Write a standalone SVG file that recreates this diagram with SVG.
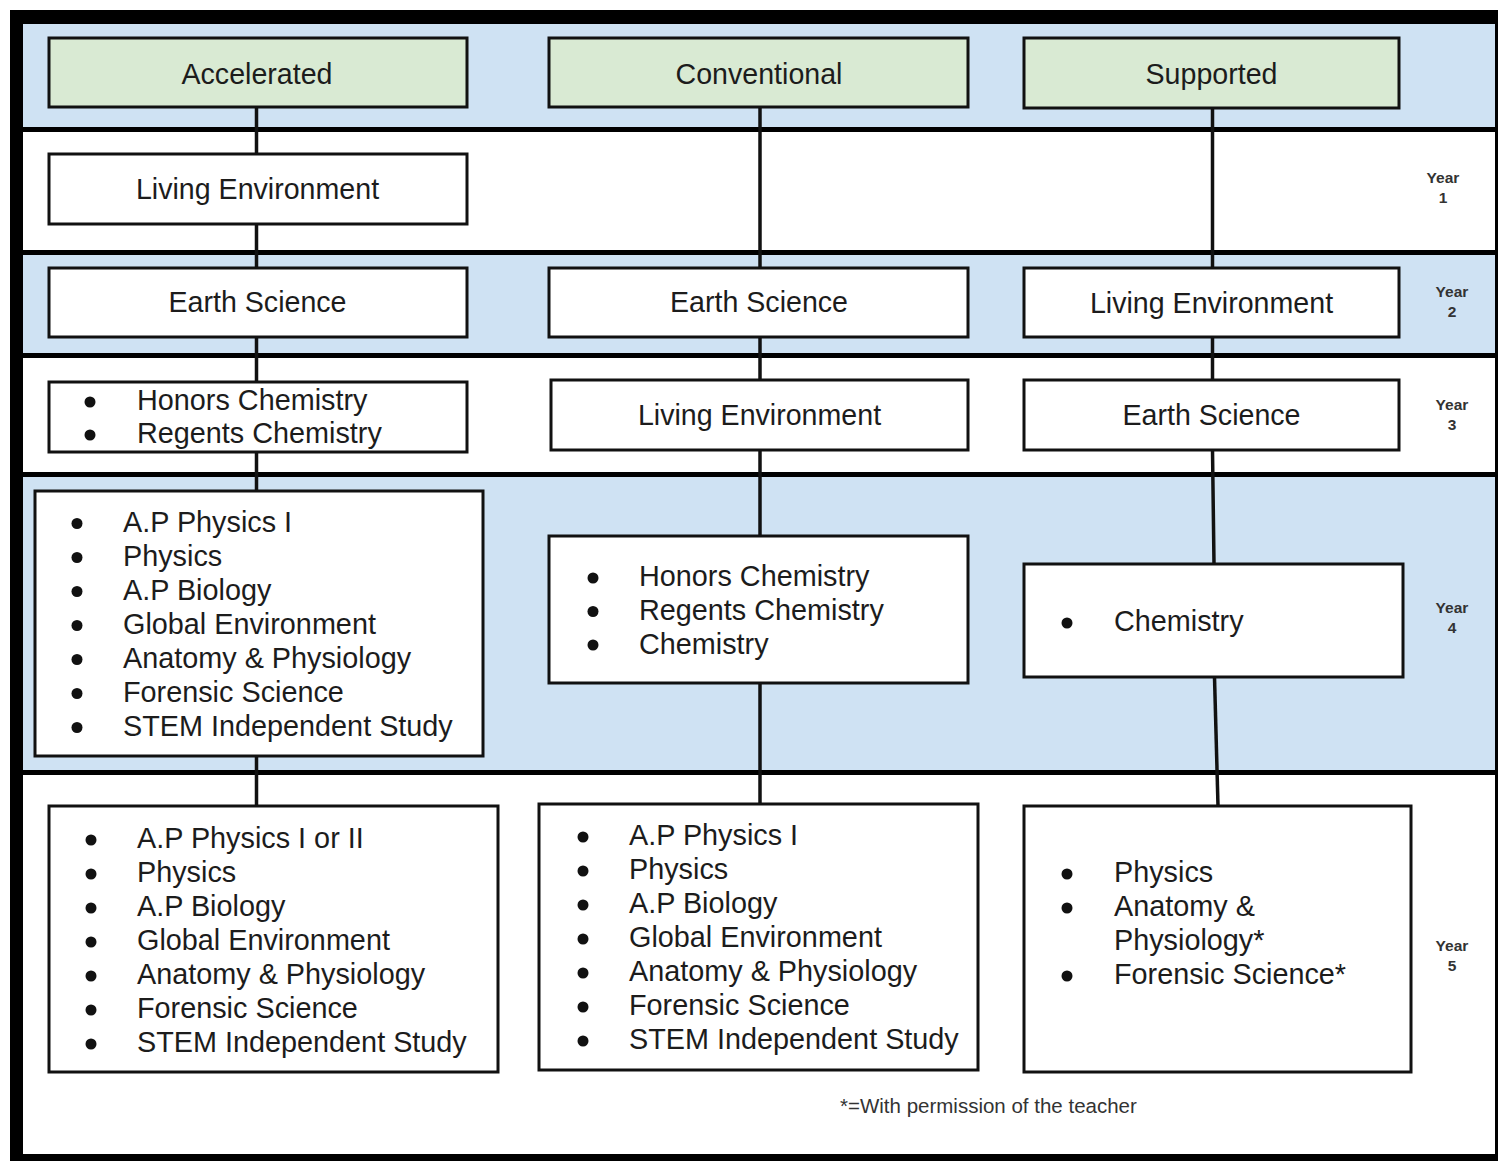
<svg xmlns="http://www.w3.org/2000/svg" width="1498" height="1161" viewBox="0 0 1498 1161">
<style>
text{font-family:"Liberation Sans",Arial,sans-serif;fill:#1c1c1c}
.lbl{font-size:28.6px;text-anchor:middle}
.li{font-size:28.8px}
.yr{font-size:15.5px;font-weight:bold;text-anchor:middle;fill:#333}
.note{font-size:20.5px;fill:#333}
.box{fill:#fff;stroke:#111;stroke-width:3}
.hdr{fill:#d9ead3;stroke:#111;stroke-width:3}
.blue{fill:#cfe2f3}
.white{fill:#fff}
.bul{fill:#111}
.conn{stroke:#111;stroke-width:3.5;fill:none}
</style>
<rect x="0" y="0" width="1498" height="1161" fill="#fff"/>
<g id="frame">
<rect x="10" y="10" width="1488" height="1151" fill="#000"/>
<rect class="blue" x="23" y="24" width="1472" height="103"/>
<rect class="white" x="23" y="132" width="1472" height="118"/>
<rect class="blue" x="23" y="255" width="1472" height="98"/>
<rect class="white" x="23" y="358" width="1472" height="114"/>
<rect class="blue" x="23" y="477" width="1472" height="293"/>
<rect class="white" x="23" y="775" width="1472" height="379"/>
</g>
<g id="connectors">
<line class="conn" x1="256.5" y1="107" x2="256.5" y2="806"/>
<line class="conn" x1="760" y1="107" x2="760" y2="804"/>
<polyline class="conn" points="1212.5,108 1212.5,450 1214,564"/>
<line class="conn" x1="1214.5" y1="677" x2="1218" y2="806"/>
</g>
<g id="hdr-accelerated"><rect class="hdr" x="49" y="38" width="418" height="69"/><text class="lbl" x="257" y="84">Accelerated</text></g>
<g id="hdr-conventional"><rect class="hdr" x="549" y="38" width="419" height="69"/><text class="lbl" x="759" y="84">Conventional</text></g>
<g id="hdr-supported"><rect class="hdr" x="1024" y="38" width="375" height="70"/><text class="lbl" x="1211.5" y="84">Supported</text></g>

<g id="acc-y1"><rect class="box" x="49" y="154" width="418" height="70"/><text class="lbl" x="257.5" y="199">Living Environment</text></g>
<g id="acc-y2"><rect class="box" x="49" y="268" width="418" height="69"/><text class="lbl" x="257.5" y="312">Earth Science</text></g>
<g id="acc-y3"><rect class="box" x="49" y="382" width="418" height="70"/>
<circle class="bul" cx="90" cy="402" r="5.5"/><circle class="bul" cx="90" cy="435" r="5.5"/>
<text class="li" x="137" y="410">Honors Chemistry</text><text class="li" x="137" y="443">Regents Chemistry</text></g>
<g id="acc-y4"><rect class="box" x="35" y="491" width="448" height="265"/>
<circle class="bul" cx="77" cy="523.5" r="5.5"/><circle class="bul" cx="77" cy="557.5" r="5.5"/><circle class="bul" cx="77" cy="591.5" r="5.5"/><circle class="bul" cx="77" cy="625.5" r="5.5"/><circle class="bul" cx="77" cy="659.5" r="5.5"/><circle class="bul" cx="77" cy="693.5" r="5.5"/><circle class="bul" cx="77" cy="727.5" r="5.5"/>
<text class="li" x="123" y="532">A.P Physics I</text><text class="li" x="123" y="566">Physics</text><text class="li" x="123" y="600">A.P Biology</text><text class="li" x="123" y="634">Global Environment</text><text class="li" x="123" y="668">Anatomy &amp; Physiology</text><text class="li" x="123" y="702">Forensic Science</text><text class="li" x="123" y="736">STEM Independent Study</text></g>
<g id="acc-y5"><rect class="box" x="49" y="806" width="449" height="266"/>
<circle class="bul" cx="91" cy="840" r="5.5"/><circle class="bul" cx="91" cy="874" r="5.5"/><circle class="bul" cx="91" cy="908" r="5.5"/><circle class="bul" cx="91" cy="942" r="5.5"/><circle class="bul" cx="91" cy="976" r="5.5"/><circle class="bul" cx="91" cy="1010" r="5.5"/><circle class="bul" cx="91" cy="1044" r="5.5"/>
<text class="li" x="137" y="848">A.P Physics I or II</text><text class="li" x="137" y="882">Physics</text><text class="li" x="137" y="916">A.P Biology</text><text class="li" x="137" y="950">Global Environment</text><text class="li" x="137" y="984">Anatomy &amp; Physiology</text><text class="li" x="137" y="1018">Forensic Science</text><text class="li" x="137" y="1052">STEM Independent Study</text></g>

<g id="con-y2"><rect class="box" x="549" y="268" width="419" height="69"/><text class="lbl" x="759" y="312">Earth Science</text></g>
<g id="con-y3"><rect class="box" x="551" y="380" width="417" height="70"/><text class="lbl" x="759.5" y="425">Living Environment</text></g>
<g id="con-y4"><rect class="box" x="549" y="536" width="419" height="147"/>
<circle class="bul" cx="593" cy="578" r="5.5"/><circle class="bul" cx="593" cy="611.5" r="5.5"/><circle class="bul" cx="593" cy="645" r="5.5"/>
<text class="li" x="639" y="586">Honors Chemistry</text><text class="li" x="639" y="620">Regents Chemistry</text><text class="li" x="639" y="654">Chemistry</text></g>
<g id="con-y5"><rect class="box" x="539" y="804" width="439" height="266"/>
<circle class="bul" cx="583" cy="837" r="5.5"/><circle class="bul" cx="583" cy="871" r="5.5"/><circle class="bul" cx="583" cy="905" r="5.5"/><circle class="bul" cx="583" cy="939" r="5.5"/><circle class="bul" cx="583" cy="973" r="5.5"/><circle class="bul" cx="583" cy="1007" r="5.5"/><circle class="bul" cx="583" cy="1041" r="5.5"/>
<text class="li" x="629" y="845">A.P Physics I</text><text class="li" x="629" y="879">Physics</text><text class="li" x="629" y="913">A.P Biology</text><text class="li" x="629" y="947">Global Environment</text><text class="li" x="629" y="981">Anatomy &amp; Physiology</text><text class="li" x="629" y="1015">Forensic Science</text><text class="li" x="629" y="1049">STEM Independent Study</text></g>

<g id="sup-y2"><rect class="box" x="1024" y="268" width="375" height="69"/><text class="lbl" x="1211.5" y="313">Living Environment</text></g>
<g id="sup-y3"><rect class="box" x="1024" y="380" width="375" height="70"/><text class="lbl" x="1211.5" y="425">Earth Science</text></g>
<g id="sup-y4"><rect class="box" x="1024" y="564" width="379" height="113"/>
<circle class="bul" cx="1067" cy="623" r="5.5"/>
<text class="li" x="1114" y="631">Chemistry</text></g>
<g id="sup-y5"><rect class="box" x="1024" y="806" width="387" height="266"/>
<circle class="bul" cx="1067" cy="874" r="5.5"/><circle class="bul" cx="1067" cy="908" r="5.5"/><circle class="bul" cx="1067" cy="976" r="5.5"/>
<text class="li" x="1114" y="882">Physics</text><text class="li" x="1114" y="916">Anatomy &amp;</text><text class="li" x="1114" y="950">Physiology*</text><text class="li" x="1114" y="984">Forensic Science*</text></g>

<g id="year-labels">
<text class="yr" x="1443" y="183">Year</text><text class="yr" x="1443" y="203">1</text>
<text class="yr" x="1452" y="297">Year</text><text class="yr" x="1452" y="317">2</text>
<text class="yr" x="1452" y="410">Year</text><text class="yr" x="1452" y="430">3</text>
<text class="yr" x="1452" y="613">Year</text><text class="yr" x="1452" y="633">4</text>
<text class="yr" x="1452" y="951">Year</text><text class="yr" x="1452" y="971">5</text>
</g>
<g id="footnote"><text class="note" x="840" y="1113">*=With permission of the teacher</text></g>
</svg>
